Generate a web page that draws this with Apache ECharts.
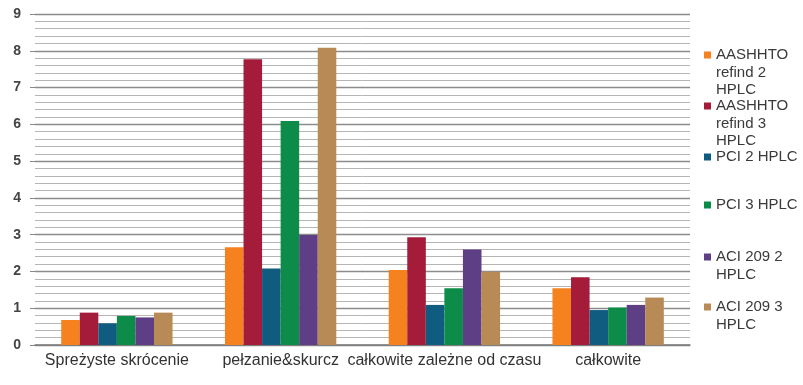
<!DOCTYPE html>
<html>
<head>
<meta charset="utf-8">
<script src="https://cdn.jsdelivr.net/npm/echarts@6/dist/echarts.min.js"></script>
<style>html,body{margin:0;padding:0;background:#fff}#c{width:803px;height:385px}</style>
</head>
<body>
<div id="c"></div>
<script>
const categories = ['Spreżyste skrócenie', 'pełzanie&skurcz', 'całkowite zależne od czasu', 'całkowite'];
const seriesNames = ['AASHHTO refind 2 HPLC', 'AASHHTO refind 3 HPLC', 'PCI 2 HPLC', 'PCI 3 HPLC', 'ACI 209 2 HPLC', 'ACI 209 3 HPLC'];
const legendLabels = ['AASHHTO\nrefind 2\nHPLC', 'AASHHTO\nrefind 3\nHPLC', 'PCI 2 HPLC', 'PCI 3 HPLC', 'ACI 209 2\nHPLC', 'ACI 209 3\nHPLC'];
const aashto2 = [0.68, 2.66, 2.04, 1.54];
const aashto3 = [0.88, 7.77, 2.93, 1.84];
const pci2 = [0.59, 2.08, 1.09, 0.95];
const pci3 = [0.79, 6.09, 1.54, 1.02];
const aci2 = [0.75, 2.99, 2.60, 1.09];
const aci3 = [0.88, 8.08, 1.99, 1.29];
const yTicks = [0, 1, 2, 3, 4, 5, 6, 7, 8, 9];
const colors = ['#F5821F', '#A51C3A', '#0F5C80', '#0C8C48', '#5E3F86', '#B88A55'];
const values = [aashto2, aashto3, pci2, pci3, aci2, aci3];

const lineH = 17.5;
const iconCenters = [55, 106, 157, 205, 257, 307];
const legends = seriesNames.map((name, i) => {
  const lines = legendLabels[i].split('\n');
  const n = lines.length;
  // prepend blank lines so the first text line sits level with the icon
  const label = new Array(n - 1).fill(' ').concat(lines).join('\n');
  const boxH = (2 * n - 1) * lineH;
  return {
    data: [name],
    orient: 'vertical',
    left: 704,
    top: iconCenters[i] - boxH / 2,
    padding: 0,
    itemWidth: 7,
    itemHeight: 7,
    icon: 'rect',
    selectedMode: false,
    formatter: () => label,
    textStyle: {
      fontFamily: 'Liberation Sans, Arial, sans-serif',
      fontSize: 15,
      color: '#3a3a3a',
      lineHeight: lineH
    }
  };
});

const chart = echarts.init(document.getElementById('c'));
chart.setOption({
  animation: false,
  color: colors,
  legend: legends,
  grid: { left: 35, right: 113, top: 14, bottom: 40, containLabel: false },
  xAxis: {
    type: 'category',
    data: categories,
    axisLine: { lineStyle: { color: '#7a7a7a', width: 1.5 } },
    axisTick: { show: false },
    axisLabel: {
      interval: 0,
      margin: 8,
      fontFamily: 'Liberation Sans, Arial, sans-serif',
      fontSize: 16,
      color: '#333'
    }
  },
  yAxis: {
    type: 'value',
    min: yTicks[0],
    max: yTicks[yTicks.length - 1],
    interval: 1,
    axisLine: { show: false },
    axisTick: { show: true, length: 5, lineStyle: { color: '#888' } },
    axisLabel: {
      margin: 14,
      fontFamily: 'Liberation Sans, Arial, sans-serif',
      fontSize: 14,
      fontWeight: 'bold',
      color: '#444'
    },
    splitLine: { show: true, lineStyle: { color: '#8c8c8c', width: 1.4 } },
    minorTick: { show: false, splitNumber: 5 },
    minorSplitLine: { show: true, lineStyle: { color: '#b5b5b5', width: 1 } }
  },
  series: seriesNames.map((name, i) => ({
    name: name,
    type: 'bar',
    data: values[i],
    barGap: '0%',
    barCategoryGap: '32%',
    itemStyle: { color: colors[i] }
  }))
});
</script>
</body>
</html>
